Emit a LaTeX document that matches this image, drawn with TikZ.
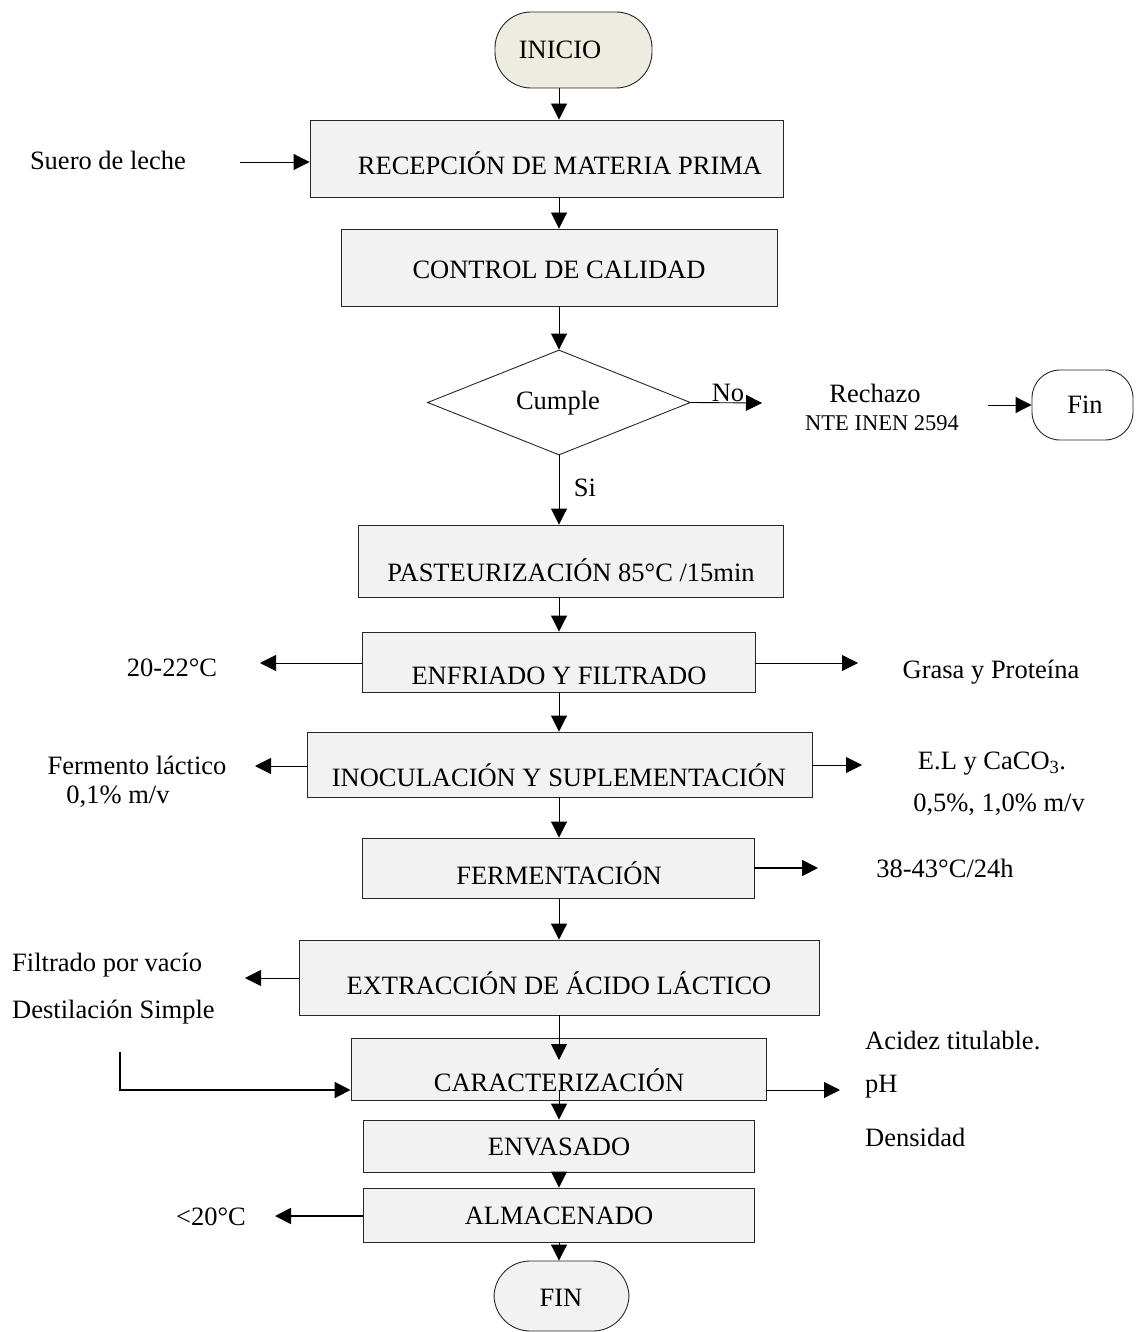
\documentclass[tikz,border=0pt]{standalone}
\usepackage{fontspec}
\setmainfont{Liberation Serif}
\usetikzlibrary{shapes.geometric,arrows.meta,calc}
\definecolor{boxfill}{HTML}{F2F2F2}
\definecolor{startfill}{HTML}{EEECE1}
\tikzset{
  box/.style={draw=black!85, line width=0.9pt, fill=boxfill, inner sep=0pt, rectangle},
  term/.style={draw=black!85, line width=0.9pt, inner sep=0pt, rectangle, rounded corners=36pt},
  txt/.style={inner sep=0pt, font=\fontsize{26.5}{30}\selectfont},
  stxt/.style={inner sep=0pt, font=\fontsize{22.5}{26}\selectfont},
  ltxt/.style={inner sep=0pt, anchor=west, font=\fontsize{26.5}{30}\selectfont},
  arr/.style={line width=0.9pt, -{Triangle[length=16pt,width=16pt]}},
  tarr/.style={line width=1.8pt, -{Triangle[length=16pt,width=16pt]}},
}
\begin{document}
\begin{tikzpicture}[x=1pt,y=-1pt]
\useasboundingbox (0,0) rectangle (1135,1332);
\coordinate (cx) at (559,0);
% terminals
\node[term, fill=startfill, minimum width=157pt, minimum height=76pt] (inicio) at (573.5,50) {};
\node[txt] at (560,50) {INICIO};
\node[term, fill=white, rounded corners=28pt, minimum width=101pt, minimum height=70pt] (finr) at (1082.5,405) {};
\node[txt] at (1085,405) {Fin};
\node[term, fill=boxfill, minimum width=135pt, minimum height=70pt] (fin) at (561.5,1296) {};
\node[txt] at (561,1298) {FIN};
% process boxes
\node[box, minimum width=473pt, minimum height=77pt] (recep) at (546.5,158.5) {};
\node[txt] at (560,163) {RECEPCIÓN DE MATERIA PRIMA};
\node[box, minimum width=436pt, minimum height=77pt] (control) at (559,267.5) {};
\node[txt] at (559,270) {CONTROL DE CALIDAD};
\node[draw=black!85, line width=0.9pt, diamond, inner sep=0pt, minimum width=263pt, minimum height=105pt] (dec) at (559,402.5) {};
\node[txt] at (558,403) {Cumple};
\node[box, minimum width=425pt, minimum height=72pt] (past) at (570.5,561) {};
\node[txt] at (571,570) {PASTEURIZACIÓN 85°C /15min};
\node[box, minimum width=393pt, minimum height=60pt] (enfr) at (558.5,662) {};
\node[txt] at (559,676) {ENFRIADO Y FILTRADO};
\node[box, minimum width=505pt, minimum height=65pt] (inoc) at (559.5,764.5) {};
\node[txt] at (559,775) {INOCULACIÓN Y SUPLEMENTACIÓN};
\node[box, minimum width=392pt, minimum height=60pt] (ferm) at (558,868) {};
\node[txt] at (559,873) {FERMENTACIÓN};
\node[box, minimum width=520pt, minimum height=75pt] (extr) at (559,977.5) {};
\node[txt] at (559,983) {EXTRACCIÓN DE ÁCIDO LÁCTICO};
\node[box, minimum width=415pt, minimum height=62pt] (carac) at (558.5,1069) {};
\node[txt] at (559,1080) {CARACTERIZACIÓN};
\node[box, minimum width=391pt, minimum height=52pt] (envas) at (558.5,1146) {};
\node[txt] at (559,1147) {ENVASADO};
\node[box, minimum width=391pt, minimum height=54pt] (almac) at (558.5,1215) {};
\node[txt] at (559,1216) {ALMACENADO};
% side texts
\node[txt] (suero) at (108,160) {Suero de leche};
\node[txt] (no) at (728,393) {No};
\node[txt] (rech) at (875,393) {Rechazo};
\node[stxt] (nte) at (882,423) {NTE INEN 2594};
\node[txt] (si) at (585,488) {Si};
\node[txt] (t2022) at (172,668) {20-22°C};
\node[txt] (grasa) at (991,672) {Grasa y Proteína};
\node[txt] (ferml) at (137,765) {Fermento láctico};
\node[txt] (ferm01) at (118,797) {0,1\% m/v};
\node[txt] (el) at (992,764) {E.L y CaCO\textsubscript{3}.};
\node[txt] (el2) at (999,805) {0,5\%, 1,0\% m/v};
\node[txt] (temp) at (945,868) {38-43°C/24h};
\node[ltxt] (filt) at (12,965) {Filtrado por vacío};
\node[ltxt] (dest) at (12,1012) {Destilación Simple};
\node[ltxt] (acid) at (865,1040) {Acidez titulable.};
\node[ltxt] (ph) at (865,1087) {pH};
\node[ltxt] (dens) at (865,1137) {Densidad};
\node[txt] (t20) at (211,1217) {<20°C};
% free ends
\coordinate (sueroE) at (240,162);
\coordinate (noE) at (762,403);
\coordinate (rechE) at (988,405);
\coordinate (enfrL) at (260,663);
\coordinate (enfrR) at (858,663);
\coordinate (inocL) at (255,766);
\coordinate (inocR) at (862,765);
\coordinate (fermR) at (818,868);
\coordinate (extrL) at (245,978);
\coordinate (carIn) at (559,1060);
\coordinate (lStart) at (120,1052);
\coordinate (carR) at (840,1090);
\coordinate (carOut) at (559,1090);
\coordinate (almL) at (275,1216);
% main flow
\draw[arr] (inicio.south -| cx) -- (recep.north -| cx);
\draw[arr] (recep.south -| cx) -- (control.north -| cx);
\draw[arr] (control.south -| cx) -- (dec.north);
\draw[arr] (dec.south) -- (past.north -| dec.south);
\draw[arr] (past.south -| cx) -- (enfr.north -| cx);
\draw[arr] (enfr.south -| cx) -- (inoc.north -| cx);
\draw[arr] (inoc.south -| cx) -- (ferm.north -| cx);
\draw[arr] (ferm.south -| cx) -- (extr.north -| cx);
\draw[arr] (extr.south -| cx) -- (carIn);
\draw[arr] (carOut) -- (envas.north -| cx);
\draw[arr] (envas.south -| cx) -- (almac.north -| cx);
\draw[arr] (almac.south -| cx) -- (fin.north -| cx);
% side arrows
\draw[arr] (sueroE) -- (sueroE -| recep.west);
\draw[arr] (dec.east) -- (noE);
\draw[arr] (rechE) -- (rechE -| finr.west);
\draw[arr] (enfrL -| enfr.west) -- (enfrL);
\draw[arr] (enfrR -| enfr.east) -- (enfrR);
\draw[arr] (inocL -| inoc.west) -- (inocL);
\draw[arr] (inocR -| inoc.east) -- (inocR);
\draw[tarr] (fermR -| ferm.east) -- (fermR);
\draw[arr] (extrL -| extr.west) -- (extrL);
\draw[tarr] (lStart) |- (carac.west |- carR);
\draw[arr] (carR -| carac.east) -- (carR);
\draw[tarr] (almL -| almac.west) -- (almL);
\end{tikzpicture}
\end{document}
